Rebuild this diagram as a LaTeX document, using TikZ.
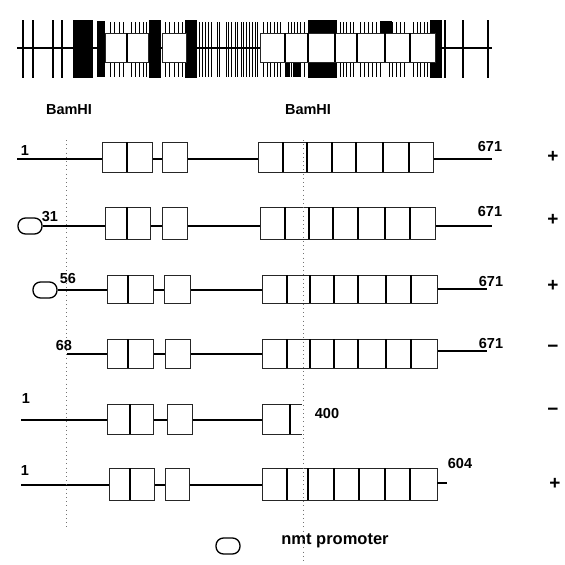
\documentclass[tikz,border=0pt]{standalone}
\usepackage{fontspec}
\setmainfont{Liberation Sans}
\begin{document}
\begin{tikzpicture}[x=1pt,y=-1pt,
  lbl/.style={font=\bfseries\fontsize{14.5}{14.5}\selectfont, inner sep=0pt},
  sgn/.style={font=\bfseries\fontsize{19}{19}\selectfont, inner sep=0pt},
  boxst/.style={draw=black!85, line width=0.8pt, fill=white},
  divst/.style={black, line width=1.1pt},
  dna/.style={black, line width=1.5pt},
  tick/.style={black, line width=1.2pt},
  thintick/.style={black, line width=1.0pt},
  dots/.style={black!55, line width=0.7pt, dash pattern=on 0.7pt off 3.5pt},
  prom/.style={draw=black, line width=1.3pt, fill=white, rounded corners=7.5pt, minimum width=24pt, minimum height=16pt, inner sep=0pt},
]
\newcommand\exonset[5]{\draw[boxst] (#1,#4) rectangle (#2,#5);
  \foreach \xx in {#3}{\draw[divst] (\xx,#4) -- (\xx,#5);}}
\path[use as bounding box] (0,0) rectangle (565,565);

% ---------- restriction map ----------
\foreach \xx in {23,33,53,62,445,463,488} \draw[tick] (\xx,20) -- (\xx,78);
\foreach \xx in {99,102,110,114,119,123,131,135,139,143,146,165,169,174,178,182,
  199,202,205,208,211,217,219,226,228,231,235,237,241,243,246,249,252,255,257,
  263,267,270,274,277,280,288,291,294,297,300,304,340,343,346,350,353,
  360,364,368,372,376,380,389,392,396,400,404,413,417,420,424,427}
  \draw[thintick] (\xx,22) -- (\xx,77);
\fill (73,20) rectangle (93,78);
\fill (97,21) rectangle (105,77);
\fill (149,20) rectangle (161,78);
\fill (185,20) rectangle (197,78);
\fill (308,20) rectangle (337,78);
\fill (430,20) rectangle (442,78);
\fill (380,21) rectangle (392,40);
\fill (285,60) rectangle (290,77);
\fill (293,60) rectangle (300,77);
\draw[dna] (17,48) -- (492,48);
\exonset{105}{148}{127}{33}{62}
\draw[boxst] (162,33) rectangle (186,62);
\exonset{260}{435}{285,308,335,357,385,410}{33}{62}

\node[lbl] (b1) at (69,110) {BamHI};
\node[lbl] (b2) at (308,110) {BamHI};

% ---------- row 1 ----------
\draw[dna] (17,159) -- (492,159);
\exonset{102}{152}{127}{142}{172}
\draw[boxst] (162,142) rectangle (187,172);
\exonset{258}{433}{283,307,332,356,383,409}{142}{172}
\node[lbl] (r1a) at (25,151) {1};
\node[lbl] (r1b) at (490,147) {671};
\node[sgn] (r1s) at (553,157) {+};

% ---------- row 2 ----------
\node[prom] (p2) at (30,226) {};
\draw[dna] (p2.east) -- (492,226);
\exonset{105}{150}{127}{207}{239}
\draw[boxst] (162,207) rectangle (187,239);
\exonset{260}{435}{285,309,333,358,385,410}{207}{239}
\node[lbl] (r2a) at (50,217) {31};
\node[lbl] (r2b) at (490,212) {671};
\node[sgn] (r2s) at (553,220) {+};

% ---------- row 3 ----------
\node[prom] (p3) at (45,290) {};
\draw[dna] (p3.east) -- (437,290);
\draw[dna] (437,289) -- (487,289);
\exonset{107}{153}{128}{275}{303}
\draw[boxst] (164,275) rectangle (190,303);
\exonset{262}{437}{287,310,334,358,386,411}{275}{303}
\node[lbl] (r3a) at (68,279) {56};
\node[lbl] (r3b) at (491,282) {671};
\node[sgn] (r3s) at (553,286) {+};

% ---------- row 4 ----------
\draw[dna] (67,354) -- (437,354);
\draw[dna] (437,351) -- (487,351);
\exonset{107}{153}{128}{339}{368}
\draw[boxst] (165,339) rectangle (190,368);
\exonset{262}{437}{287,310,334,358,386,411}{339}{368}
\node[lbl] (r4a) at (64,346) {68};
\node[lbl] (r4b) at (491,344) {671};
\node[sgn] (r4s) at (553,349) {−};

% ---------- row 5 ----------
\draw[dna] (21,420) -- (262,420);
\exonset{107}{153}{130}{404}{434}
\draw[boxst] (167,404) rectangle (192,434);
\draw[boxst] (302,404) -- (262,404) -- (262,434) -- (302,434);
\draw[divst] (290,404) -- (290,434);
\node[lbl] (r5a) at (26,399) {1};
\node[lbl] (r5b) at (327,414) {400};
\node[sgn] (r5s) at (553,412) {−};

% ---------- row 6 ----------
\draw[dna] (21,485) -- (262,485);
\exonset{109}{154}{130}{468}{500}
\draw[boxst] (165,468) rectangle (189,500);
\exonset{262}{437}{287,308,334,359,385,410}{468}{500}
\draw[dna] (437,483) -- (447,483);
\node[lbl] (r6a) at (25,471) {1};
\node[lbl] (r6b) at (460,464) {604};
\node[sgn] (r6s) at (555,484) {+};

% ---------- legend ----------
\node[prom] (pl) at (228,546) {};
\node[lbl, font=\bfseries\fontsize{16.5}{16.5}\selectfont] (lt) at (335,541) {nmt promoter};

% ---------- BamHI dotted guides ----------
\coordinate (d1t) at (66,140);
\coordinate (d1b) at (66,530);
\coordinate (d2t) at (303,140);
\coordinate (d2b) at (303,562);
\draw[dots] (d1t) -- (d1b);
\draw[dots] (d2t) -- (d2b);
\end{tikzpicture}
\end{document}
